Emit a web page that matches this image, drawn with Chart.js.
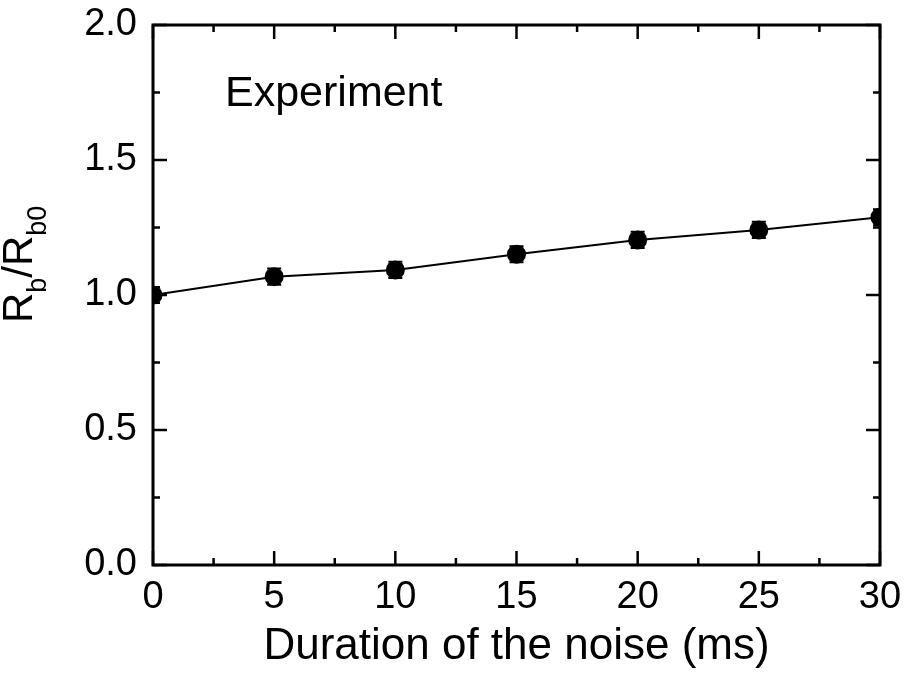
<!DOCTYPE html>
<html lang="en">
<head>
    <meta charset="UTF-8">
    <title>Rb/Rb0 vs noise duration</title>
    <style>
        html, body { margin: 0; padding: 0; background: #fff; }
        #wrap { width: 919px; height: 676px; }
    </style>
</head>
<body>
<div id="wrap"><canvas id="chart" width="919" height="676"></canvas></div>

<script src="https://cdn.jsdelivr.net/npm/chart.js"></script>
<script>
    // data
    const durations = [0, 5, 10, 15, 20, 25, 30];           // ms
    const ratios = [1.0, 1.068, 1.093, 1.151, 1.204, 1.241, 1.288];
    const errors = [0.03, 0.03, 0.03, 0.03, 0.03, 0.03, 0.03];
    const xTickValues = [0, 5, 10, 15, 20, 25, 30];
    const yTickValues = [0.0, 0.5, 1.0, 1.5, 2.0];

    const FONT = '"Liberation Sans", Arial, sans-serif';

    // box frame + inward ticks on all four sides
    const framePlugin = {
        id: 'frame',
        afterDraw(chart) {
            const { ctx, chartArea: a, scales: { x, y } } = chart;
            ctx.save();
            ctx.strokeStyle = '#000';
            ctx.lineWidth = 2.5;
            const tick = (x1, y1, x2, y2) => {
                ctx.beginPath(); ctx.moveTo(x1, y1); ctx.lineTo(x2, y2); ctx.stroke();
            };
            for (let i = 0; i < xTickValues.length; i++) {
                const px = x.getPixelForValue(xTickValues[i]);
                tick(px, a.bottom, px, a.bottom - 14);
                tick(px, a.top, px, a.top + 14);
                if (i < xTickValues.length - 1) {
                    const pm = x.getPixelForValue((xTickValues[i] + xTickValues[i + 1]) / 2);
                    tick(pm, a.bottom, pm, a.bottom - 7);
                    tick(pm, a.top, pm, a.top + 7);
                }
            }
            for (let i = 0; i < yTickValues.length; i++) {
                const py = y.getPixelForValue(yTickValues[i]);
                tick(a.left, py, a.left + 14, py);
                tick(a.right, py, a.right - 14, py);
                if (i < yTickValues.length - 1) {
                    const pm = y.getPixelForValue((yTickValues[i] + yTickValues[i + 1]) / 2);
                    tick(a.left, pm, a.left + 7, pm);
                    tick(a.right, pm, a.right - 7, pm);
                }
            }
            ctx.lineWidth = 3;
            ctx.strokeRect(a.left, a.top, a.right - a.left, a.bottom - a.top);

            // label in the plot
            ctx.fillStyle = '#000';
            ctx.font = '43px ' + FONT;
            ctx.textBaseline = 'alphabetic';
            ctx.fillText('Experiment', 225, 106);

            // y axis title with subscripts: R_b/R_b0
            ctx.translate(32, 323);
            ctx.rotate(-Math.PI / 2);
            let cx = 0;
            const part = (txt, size, dy) => {
                ctx.font = size + 'px ' + FONT;
                ctx.fillText(txt, cx, dy);
                cx += ctx.measureText(txt).width;
            };
            part('R', 42, 0);
            part('b', 27, 14);
            part('/', 42, 0);
            part('R', 42, 0);
            part('b0', 27, 14);
            ctx.restore();
        }
    };

    // vertical error bars
    const errorBarPlugin = {
        id: 'errorBars',
        beforeDatasetsDraw(chart) {
            const { ctx, chartArea: a, scales: { x, y } } = chart;
            ctx.save();
            ctx.beginPath();
            ctx.rect(a.left, a.top, a.right - a.left, a.bottom - a.top);
            ctx.clip();
            ctx.strokeStyle = '#000';
            ctx.lineWidth = 2;
            for (let i = 0; i < durations.length; i++) {
                const px = x.getPixelForValue(durations[i]);
                const top = y.getPixelForValue(ratios[i] + errors[i]);
                const bot = y.getPixelForValue(ratios[i] - errors[i]);
                ctx.beginPath();
                ctx.moveTo(px, top); ctx.lineTo(px, bot);
                ctx.moveTo(px - 7, top); ctx.lineTo(px + 7, top);
                ctx.moveTo(px - 7, bot); ctx.lineTo(px + 7, bot);
                ctx.stroke();
            }
            ctx.restore();
        }
    };

    const ctx = document.getElementById('chart').getContext('2d');
    const chart = new Chart(ctx, {
        type: 'scatter',
        data: {
            datasets: [{
                label: 'Experiment',
                data: durations.map((d, i) => ({ x: d, y: ratios[i] })),
                showLine: true,
                borderColor: '#000',
                borderWidth: 2,
                backgroundColor: '#000',
                pointRadius: 9.5,
                pointBorderWidth: 0,
                clip: 0
            }]
        },
        options: {
            responsive: false,
            animation: false,
            events: [],
            layout: { padding: { top: 25, right: 39, left: 0, bottom: 0 } },
            plugins: {
                legend: { display: false },
                tooltip: { enabled: false }
            },
            scales: {
                x: {
                    type: 'linear',
                    min: 0,
                    max: 30,
                    afterFit: s => { s.height = 111; },
                    afterBuildTicks: s => { s.ticks = xTickValues.map(v => ({ value: v })); },
                    grid: { display: false },
                    border: { display: false },
                    ticks: {
                        color: '#000',
                        padding: 2,
                        maxRotation: 0,
                        font: { family: FONT, size: 38 }
                    },
                    title: {
                        display: true,
                        text: 'Duration of the noise (ms)',
                        color: '#000',
                        padding: { top: 0, bottom: 3 },
                        font: { family: FONT, size: 44 }
                    }
                },
                y: {
                    type: 'linear',
                    min: 0,
                    max: 2,
                    afterFit: s => { s.width = 153; s.paddingTop = 0; s.paddingBottom = 0; },
                    afterBuildTicks: s => { s.ticks = yTickValues.map(v => ({ value: v })); },
                    grid: { display: false },
                    border: { display: false },
                    ticks: {
                        color: '#000',
                        padding: 8,
                        callback: v => v.toFixed(1),
                        font: { family: FONT, size: 38 }
                    }
                }
            }
        },
        plugins: [errorBarPlugin, framePlugin]
    });
</script>
</body>
</html>
